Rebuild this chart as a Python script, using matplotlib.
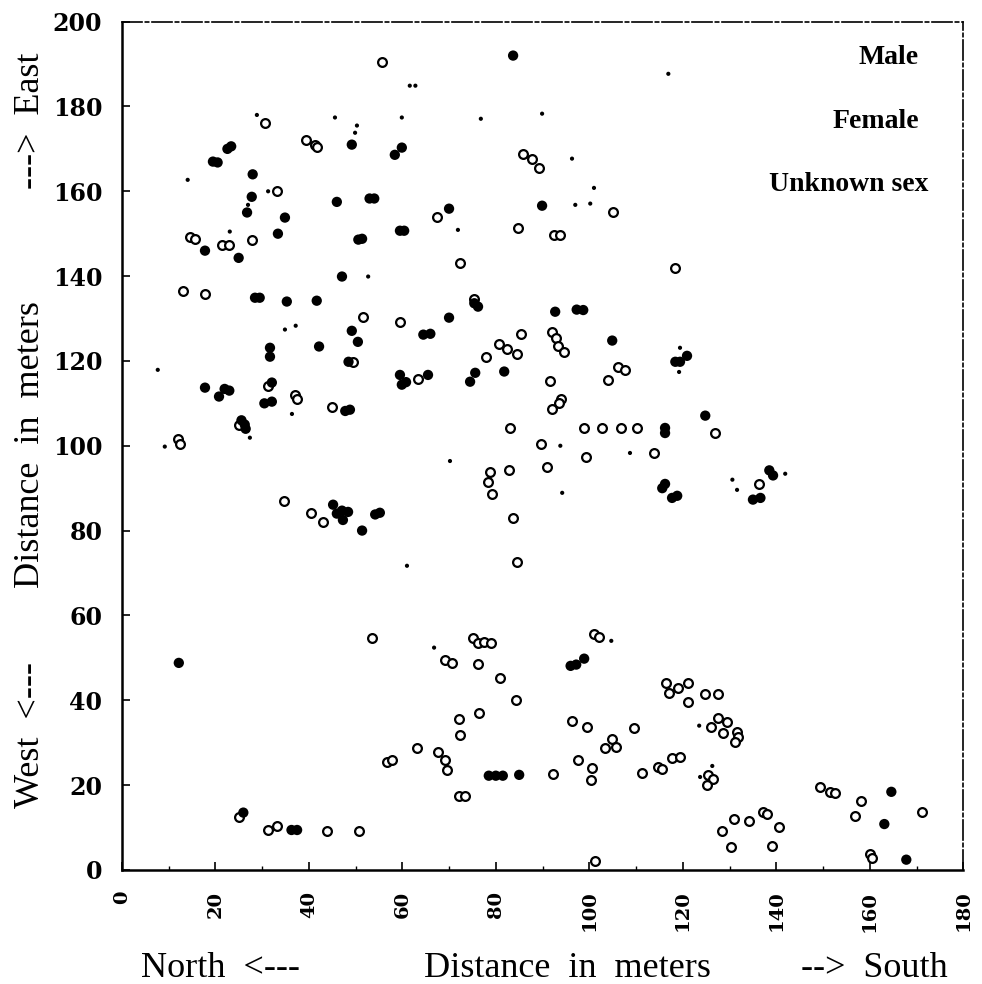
import matplotlib
matplotlib.use("Agg")
import matplotlib.pyplot as plt

# Male (filled circles)
male_x = [83.7, 19.5, 20.5, 22.6, 23.4, 28, 27.8, 26.8, 17.8, 25, 33.4, 34.9, 28.5, 29.5,
          35.3, 41.7, 46, 49.2, 53, 54, 47.1, 51.4, 50.6, 58.4, 59.9, 59.5, 60.4, 70, 89.9,
          31.7, 31.7, 49.2, 50.5, 42.2, 48.5, 59.5, 59.9, 60.8, 17.8, 22, 23, 20.8, 32.1,
          32.1, 30.5, 48.8, 47.8, 25.6, 26.3, 26.5, 70, 76.2, 75.4, 92.7, 97.3, 98.7, 64.5,
          66, 81.8, 104.9, 118.4, 119.4, 120.9, 65.5, 75.6, 74.5, 116.2, 116.2, 116.2, 115.6,
          117.7, 118.8, 124.8, 138.5, 139.3, 135, 136.6, 45.2, 47.1, 48.4, 47.3, 46, 55.2,
          54.2, 51.4, 12.2, 26, 36.3, 37.5, 78.5, 80, 81.5, 85, 96, 97.2, 98.9, 164.6, 163.1,
          167.8]
male_y = [192, 167, 166.8, 170, 170.6, 164, 158.7, 155, 146, 144.3, 150, 153.8, 134.9, 134.9,
          134, 134.2, 157.5, 171, 158.3, 158.3, 139.9, 148.8, 148.6, 168.6, 170.3, 150.7, 150.7,
          155.9, 156.6, 123.1, 121, 127.1, 124.5, 123.4, 119.8, 116.7, 114.4, 115, 113.7, 113.4,
          113, 111.6, 114.9, 110.4, 110, 108.5, 108.2, 106, 105, 104, 130.2, 132.8, 133.6,
          131.6, 132.1, 132, 126.2, 126.4, 117.5, 124.8, 119.8, 119.8, 121.2, 116.7, 117.2,
          115.1, 104.2, 103, 91, 90, 87.7, 88.2, 107.1, 94.2, 93, 87.3, 87.7, 86.1, 84.7, 84.4,
          82.5, 84, 84.2, 83.8, 80, 48.8, 13.5, 9.4, 9.4, 22.2, 22.2, 22.2, 22.4, 48.1, 48.4,
          49.8, 18.4, 10.8, 2.4]

# Female (open circles)
female_x = [55.6, 14.6, 15.6, 13.1, 17.8, 21.5, 23, 27.8, 30.6, 39.5, 41.3, 41.8, 33.2, 85.8,
            87.8, 89.3, 67.4, 84.8, 92.5, 93.7, 105.1, 72.3, 118.4, 75.3, 51.6, 59.5, 49.5,
            31.3, 37, 37.5, 44.9, 25, 12, 12.5, 34.8, 40.5, 43, 85.4, 92, 92.9, 93.3, 94.6,
            80.7, 82.4, 84.5, 77.9, 104, 106.2, 107.7, 63.4, 91.6, 94, 93.6, 92, 83, 98.9,
            102.7, 106.8, 110.2, 89.7, 99.3, 113.9, 91, 82.8, 78.8, 78.3, 79.2, 83.7, 84.5,
            126.9, 136.3, 53.5, 56.8, 57.8, 25, 31.3, 33.2, 43.9, 50.7, 69.1, 70.6, 76.2, 75.1,
            76.2, 77.5, 79, 80.9, 84.3, 72.1, 72.3, 76.4, 63.1, 67.6, 69.1, 69.6, 72.2, 73.5,
            92.3, 101.2, 101, 102, 96.3, 99.5, 109.6, 104.9, 103.4, 105.7, 97.6, 100.6, 100.4,
            111.3, 114.7, 115.6, 117.7, 119.4, 116.4, 119, 117.1, 121.1, 121.1, 124.8, 127.6,
            126.1, 127.6, 129.5, 128.6, 131.6, 131.8, 131.2, 125.4, 126.5, 125.2, 149.4, 151.5,
            152.6, 158.2, 171.2, 156.9, 160.1, 160.5, 131, 134.2, 137.2, 138, 128.4, 140.6,
            130.4, 139.1]
female_y = [190.6, 149.3, 148.8, 136.6, 135.8, 147.4, 147.4, 148.6, 176.2, 172, 171, 170.5, 160,
            168.9, 167.5, 165.6, 154, 151.4, 149.8, 149.8, 155.2, 143.2, 142, 134.5, 130.4,
            129.2, 119.8, 114, 112, 111, 109.2, 105, 101.5, 100.3, 87, 84.2, 82.1, 126.4, 126.9,
            125.5, 123.6, 122.2, 124, 122.9, 121.7, 121, 115.6, 118.6, 117.9, 115.8, 115.3, 111,
            110, 108.7, 104.2, 104.2, 104.2, 104.2, 104.2, 100.5, 97.4, 98.4, 95, 94.3, 93.9,
            91.5, 88.7, 83, 72.6, 103, 91, 54.7, 25.5, 25.8, 12.5, 9.4, 10.4, 9.2, 9.2, 49.5,
            48.8, 48.6, 54.7, 53.5, 53.8, 53.5, 45.3, 40.1, 35.6, 31.8, 37, 28.8, 27.8, 25.9,
            23.6, 17.5, 17.5, 22.6, 2.1, 55.5, 55, 35.1, 33.7, 33.5, 30.9, 28.8, 29, 25.9, 24.1,
            21.2, 22.9, 24.3, 23.8, 26.4, 26.6, 44.1, 42.9, 41.7, 44.1, 39.6, 41.5, 41.5, 33.7,
            35.8, 34.9, 32.3, 32.5, 31.4, 30.2, 22.4, 21.5, 20, 19.6, 18.4, 18.2, 16.3, 13.7,
            12.7, 3.8, 2.8, 12, 11.6, 13.6, 13.2, 9.2, 10.1, 5.4, 5.7]

# Unknown sex (small dots)
unknown_x = [116.9, 61.6, 62.8, 59.9, 76.8, 89.9, 96.3, 101, 71.9, 97, 100.2, 28.9, 45.6, 50.3,
             49.9, 14.1, 31.3, 23.1, 52.7, 27, 34.9, 37.2, 7.7, 36.4, 27.4, 9.2, 119.4, 119.2,
             93.8, 108.7, 70.2, 94.2, 61, 141.9, 130.6, 131.6, 66.8, 104.7, 123.5, 123.7, 126.3]
unknown_y = [187.7, 184.9, 184.9, 177.4, 177.1, 178.3, 167.7, 160.8, 150.9, 156.8, 157.1, 178,
             177.4, 175.5, 173.8, 162.7, 160, 150.5, 139.9, 156.8, 127.4, 128.3, 117.9, 107.5,
             101.9, 99.8, 123.1, 117.4, 100, 98.3, 96.4, 88.9, 71.7, 93.4, 92, 89.6, 52.4, 54,
             34, 21.9, 24.5]

legend_labels = ["Male", "Female", "Unknown sex"]

fig = plt.figure(figsize=(9.82, 9.84), dpi=100)
ax = fig.add_axes([0.124, 0.116, 0.857, 0.862])

ax.scatter(female_x, female_y, s=40, facecolors="white", edgecolors="black", linewidths=1.6, zorder=3)
ax.scatter(male_x, male_y, s=55, c="black", edgecolors="none", zorder=4)
ax.scatter(unknown_x, unknown_y, s=9, c="black", edgecolors="none", zorder=5)

ax.set_xlim(0, 180)
ax.set_ylim(0, 200)
ax.set_xticks(range(0, 181, 20))
ax.set_yticks(range(0, 201, 20))
ax.set_xticks(range(0, 181, 10), minor=True)
ax.tick_params(direction="in", length=6, width=1.2, top=False, right=False)
ax.tick_params(which="minor", direction="in", length=3, width=1)
ax.tick_params(axis="x", pad=15)
ax.tick_params(axis="y", pad=14)
for lbl in ax.get_xticklabels():
    lbl.set_rotation(90)
    lbl.set_fontfamily("DejaVu Serif")
    lbl.set_fontweight("bold")
    lbl.set_fontsize(14)
for lbl in ax.get_yticklabels():
    lbl.set_fontfamily("DejaVu Serif")
    lbl.set_fontweight("bold")
    lbl.set_fontsize(17)

for side in ["left", "bottom"]:
    ax.spines[side].set_linewidth(1.8)
for side in ["top", "right"]:
    ax.spines[side].set_linewidth(1.2)
    ax.spines[side].set_linestyle((0, (12, 2, 2, 2)))

# legend texts (markers faded out in the original)
for label, lx, ly in zip(legend_labels, [170.5, 170.5, 172.5], [191.5, 176.5, 161.5]):
    ax.text(lx, ly, label, ha="right", va="center", fontsize=20,
            family="Liberation Serif", fontweight="bold")

lab = dict(family="Liberation Serif", fontsize=26)
fig.text(0.224, 0.007, "North  <---", ha="center", va="baseline", **lab)
fig.text(0.578, 0.007, "Distance  in  meters", ha="center", va="baseline", **lab)
fig.text(0.89, 0.007, "-->  South", ha="center", va="baseline", **lab)
fig.text(0.031, 0.253, "West  <---", rotation=90, ha="center", va="center", **lab)
fig.text(0.031, 0.548, "Distance  in  meters", rotation=90, ha="center", va="center", **lab)
fig.text(0.031, 0.877, "--->  East", rotation=90, ha="center", va="center", **lab)

fig.savefig("out.png", dpi=100)
